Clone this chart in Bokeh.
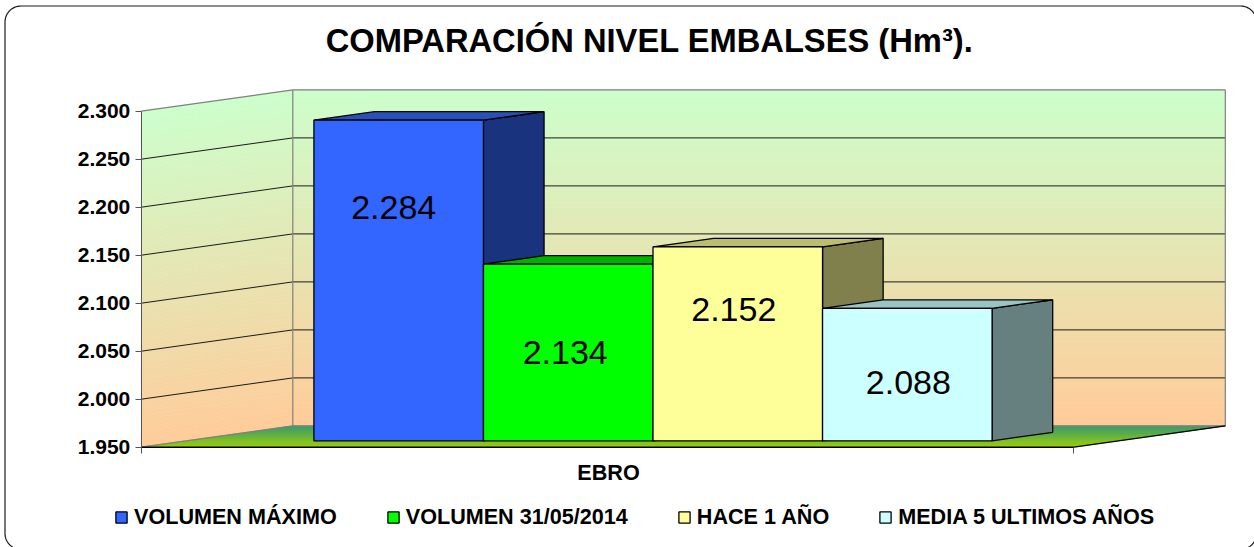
import numpy as np
from bokeh.embed import file_html
from bokeh.resources import INLINE
from bokeh.plotting import figure
from bokeh.models import LinearAxis, FixedTicker, Legend, LegendItem, ColumnDataSource
from bokeh.core.properties import value

# ---- data ----
TITLE = "COMPARACIÓN NIVEL EMBALSES (Hm³)."
CATEGORY = "EBRO"
SERIES = ["VOLUMEN MÁXIMO", "VOLUMEN 31/05/2014", "HACE 1 AÑO", "MEDIA 5 ULTIMOS AÑOS"]
VALUES = [2284, 2134, 2152, 2088]
VALUE_LABELS = ["2.284", "2.134", "2.152", "2.088"]
TICKS = [1950, 2000, 2050, 2100, 2150, 2200, 2250, 2300]
TICK_LABELS = ["1.950", "2.000", "2.050", "2.100", "2.150", "2.200", "2.250", "2.300"]

# ---- styles ----
FRONT = ["#3366FF", "#00FF00", "#FFFF99", "#CCFFFF"]
TOP = ["#2A50B8", "#00B200", "#BDBD70", "#99C4C4"]
SIDE = ["#1A337F", "#008000", "#80804D", "#667F7F"]
LABEL_DROP = [87, 88, 63, 74]  # px below the top edge of each front face
LABEL_SHIFT = [-5, -3, -4, 1]
FONT = value("Liberation Sans")

W, H = 1254, 547
X0, X1 = 140.8, 1073.3      # canvas px of category axis ends
Y_BASE, PX_PER_UNIT = 446.7, 0.96
DEPTH_PX, RISE_PX = 151.5, 21.3
D0, D1 = 0.30, 0.70
GAP = 1.5

ux = 1.0 / (X1 - X0)
x_range = ((0 - X0) * ux, (W - X0) * ux)
y_range = (TICKS[0] - (H - Y_BASE) / PX_PER_UNIT, TICKS[0] + Y_BASE / PX_PER_UNIT)
DX = DEPTH_PX * ux
DY = RISE_PX / PX_PER_UNIT

def px(x):
    return (np.asarray(x, float) - X0) * ux

def py(y):
    return TICKS[0] + (Y_BASE - np.asarray(y, float)) / PX_PER_UNIT

def proj(u, v, d):
    return u + d * DX, v + d * DY

def mix(a, b, t):
    ca = [int(a[i:i + 2], 16) for i in (1, 3, 5)]
    cb = [int(b[i:i + 2], 16) for i in (1, 3, 5)]
    return "#%02x%02x%02x" % tuple(round(p + (q - p) * t) for p, q in zip(ca, cb))

p = figure(width=W, height=H, x_range=x_range, y_range=y_range, output_backend="svg",
           toolbar_location=None, min_border=0, x_axis_type=None, y_axis_type=None,
           outline_line_color=None, background_fill_color="white", border_fill_color="white")
p.grid.visible = False

# rounded chart border
R = 16
L_, T_, R_, B_ = 4.5, 5.5, 1256.0, 549.0
a = np.linspace(0, np.pi / 2, 16)
bx = np.concatenate([L_ + R - R * np.cos(a), R_ - R + R * np.sin(a), R_ - R + R * np.cos(a), L_ + R - R * np.sin(a), [L_ + R - R]])
by = np.concatenate([T_ + R - R * np.sin(a), T_ + R - R * np.cos(a), B_ - R + R * np.sin(a), B_ - R + R * np.cos(a), [T_ + R]])
p.line(px(bx), py(by), line_color="#1a1a1a", line_width=1.2)

# walls with vertical gradient
N = 84
levels = np.linspace(TICKS[-1], TICKS[0], N + 1)
xs, ys, cs = [], [], []
for i in range(N):
    t = (i + 0.5) / N
    c = mix("#CCFFCC", "#FFCC99", t)
    vt, vb = levels[i], levels[i + 1]
    # back wall
    xs.append([DX, 1 + DX, 1 + DX, DX])
    ys.append([vt + DY, vt + DY, vb + DY, vb + DY])
    cs.append(c)
    # side wall
    xs.append([0, DX, DX, 0])
    ys.append([vt, vt + DY, vb + DY, vb])
    cs.append(c)
p.patches("x", "y", source=ColumnDataSource(dict(x=xs, y=ys, c=cs)), fill_color="c", line_color="c", line_width=0.6)

# floor with gradient by depth
M = 22
xs, ys, cs = [], [], []
for i in range(M):
    d0, d1 = i / M, (i + 1) / M
    xs.append([d0 * DX, 1 + d0 * DX, 1 + d1 * DX, d1 * DX])
    ys.append([TICKS[0] + d0 * DY, TICKS[0] + d0 * DY, TICKS[0] + d1 * DY, TICKS[0] + d1 * DY])
    cs.append(mix("#99CC00", "#339966", (i + 0.5) / M))
p.patches("x", "y", source=ColumnDataSource(dict(x=xs, y=ys, c=cs)), fill_color="c", line_color="c", line_width=0.6)

# gridlines
for v in TICKS[1:-1]:
    p.line([0, DX, 1 + DX], [v, v + DY, v + DY], line_color="#1a1a1a", line_width=1)
# wall edges
top, base = TICKS[-1], TICKS[0]
p.line([0, DX, 1 + DX, 1 + DX, DX, 0], [top, top + DY, top + DY, base + DY, base + DY, base], line_color="#808080", line_width=1.2)
p.line([DX, DX], [base + DY, top + DY], line_color="#808080", line_width=1.2)
p.line([0, 1, 1 + DX], [base, base, base + DY], line_color="#000000", line_width=1.2)

# bars
unit = 1.0 / (len(VALUES) + GAP)
fronts = []
for i, v in enumerate(VALUES):
    u0 = GAP / 2 * unit + i * unit
    u1 = u0 + unit
    fl, fb = proj(u0, base, D0)
    fr, ft = proj(u1, v, D0)
    bl, _ = proj(u0, v, D1)
    br, bt = proj(u1, v, D1)
    _, bb = proj(u1, base, D1)
    p.patch([fr, br, br, fr], [ft, bt, bb, fb], fill_color=SIDE[i], line_color="#000000", line_width=1.3)
    p.patch([fl, bl, br, fr], [ft, bt, bt, ft], fill_color=TOP[i], line_color="#000000", line_width=1.3)
    fronts.append(p.quad(left=fl, right=fr, top=ft, bottom=fb, fill_color=FRONT[i], line_color="#000000", line_width=1.3))
    p.text([(fl + fr) / 2], [ft], text=[VALUE_LABELS[i]], text_font=FONT, text_font_size="34px",
           text_align="center", text_baseline="middle", text_color="#000000",
           x_offset=LABEL_SHIFT[i], y_offset=LABEL_DROP[i])

# axes
yaxis = LinearAxis(fixed_location=0, ticker=FixedTicker(ticks=TICKS), bounds=(TICKS[0], TICKS[-1]),
                   major_label_overrides=dict(zip(TICKS, TICK_LABELS)),
                   major_label_text_font="Liberation Sans", major_label_text_font_style="bold",
                   major_label_text_font_size="21px", major_label_text_color="#000000",
                   major_tick_out=6, major_tick_in=0, minor_tick_out=0, minor_tick_in=0,
                   major_label_standoff=5, axis_line_color="#555555", major_tick_line_color="#555555")
p.add_layout(yaxis, "left")
xaxis = LinearAxis(fixed_location=TICKS[0], ticker=FixedTicker(ticks=[0, 1]), bounds=(0, 1),
                   major_label_overrides={0: "", 1: ""},
                   major_tick_out=6, major_tick_in=0, minor_tick_out=0, minor_tick_in=0,
                   axis_line_color="#000000", major_tick_line_color="#555555")
p.add_layout(xaxis, "below")

p.text([0.5], [TICKS[0]], text=[CATEGORY], text_font=FONT, text_font_style="bold", text_font_size="21.6px",
       text_align="center", text_baseline="middle", text_color="#000000", y_offset=25, x_offset=1)
p.text([px(649)], [py(39.5)], text=[TITLE], text_font=FONT, text_font_style="bold", text_font_size="32.7px",
       text_align="center", text_baseline="middle", text_color="#000000")

legend = Legend(items=[LegendItem(label=s, renderers=[r]) for s, r in zip(SERIES, fronts)],
                orientation="horizontal", location=(114, 17), spacing=49, padding=0, margin=0,
                glyph_width=14, glyph_height=14, label_standoff=6, border_line_color=None,
                background_fill_alpha=0, label_text_font="Liberation Sans", label_text_font_style="bold",
                label_text_font_size="21.6px", label_text_color="#000000")
p.add_layout(legend)

open("out.html", "w").write(file_html(p, INLINE))
